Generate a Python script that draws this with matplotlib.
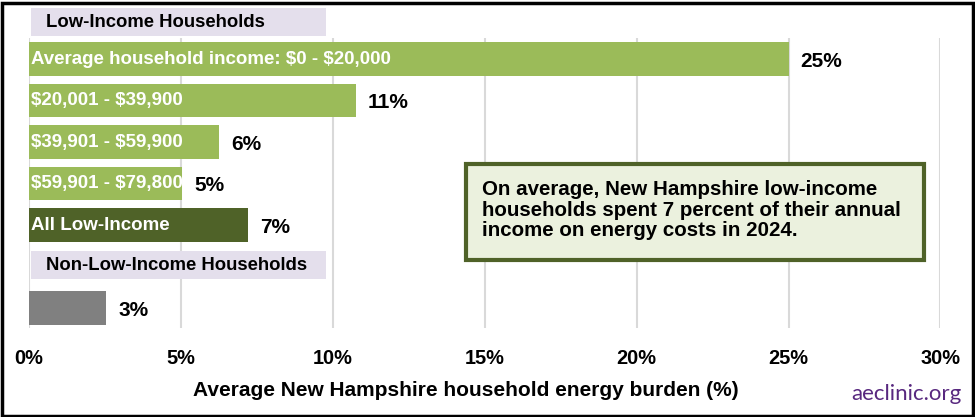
import matplotlib.pyplot as plt
from matplotlib.patches import Rectangle

plt.rcParams['font.family'] = ['Liberation Sans', 'DejaVu Sans']

# rows from top to bottom (header rows carry no value)
row_labels = ["Low-Income Households",
              "Average household income: \\$0 - \\$20,000",
              "\\$20,001 - \\$39,900",
              "\\$39,901 - \\$59,900",
              "\\$59,901 - \\$79,800",
              "All Low-Income",
              "Non-Low-Income Households",
              ""]
row_kind = ["header", "bar", "bar", "bar", "bar", "total", "header", "other"]
burden = [None, 25.0, 10.75, 6.25, 5.05, 7.2, None, 2.55]
value_labels = ["", "25%", "11%", "6%", "5%", "7%", "", "3%"]
xticks = [0, 5, 10, 15, 20, 25, 30]
xtick_labels = ["0%", "5%", "10%", "15%", "20%", "25%", "30%"]

colors = {"bar": "#9bbb59", "total": "#4f6228", "other": "#808080"}
header_color = "#e4dfec"

W, H = 975, 417
fig = plt.figure(figsize=(W / 100, H / 100), dpi=100)
ax = fig.add_axes([29 / W, 1 - 328 / H, (940.5 - 29) / W, (328 - 38) / H])

for i, (lab, kind, v, vl) in enumerate(zip(row_labels, row_kind, burden, value_labels)):
    if kind == "header":
        yc = i + 0.11 if i == 0 else i - 0.03
        ax.add_patch(Rectangle((0.07, yc - 0.34), 9.72, 0.68, facecolor=header_color,
                               edgecolor="none", zorder=3, clip_on=False))
        ax.text(0.55, yc, lab, ha="left", va="center", fontsize=13.3,
                fontweight="bold", color="black", zorder=4, clip_on=False)
        continue
    ax.barh(i, v, height=0.8, color=colors[kind], zorder=2)
    if lab:
        ax.text(0.07, i, lab, ha="left", va="center", fontsize=13.5,
                fontweight="bold", color="white", zorder=4)
    ax.text(v + 0.4, i + 0.05, vl, ha="left", va="center", fontsize=15,
            fontweight="bold", color="black", zorder=4)

ax.set_xlim(0, 30)
ax.set_ylim(7.48, 0.494)
ax.set_xticks(xticks)
ax.set_xticklabels(xtick_labels, fontsize=14.4, fontweight="bold")
ax.set_yticks([])
ax.tick_params(axis="x", length=0, pad=15)
ax.grid(axis="x", color="#d9d9d9", linewidth=1.5, zorder=0)
for s in ax.spines.values():
    s.set_visible(False)

fig.text(466 / W, 1 - 391 / H, "Average New Hampshire household energy burden (%)",
         ha="center", va="center", fontsize=15, fontweight="bold")
fig.text(961 / W, 1 - 394 / H, "aeclinic.org", ha="right", va="center",
         fontsize=16, color="#58287f", family=["Lato", "DejaVu Sans"])

# call-out box
fig.patches.append(Rectangle((466 / W, 1 - 260 / H), 458 / W, 96 / H,
                             transform=fig.transFigure, facecolor="#ebf1de",
                             edgecolor="#4f6228", linewidth=3, zorder=5))
fig.text(482 / W, 1 - 210 / H,
         "On average, New Hampshire low-income\nhouseholds spent 7 percent of their annual\nincome on energy costs in 2024.",
         ha="left", va="center", fontsize=14.8, fontweight="bold",
         linespacing=1.1, zorder=6)

# outer frame
fig.patches.append(Rectangle((1.5 / W, 1.5 / H), 1 - 4 / W, 1 - 4 / H,
                             transform=fig.transFigure, facecolor="none",
                             edgecolor="black", linewidth=2.5, zorder=10))

fig.savefig("out.png", dpi=100)
